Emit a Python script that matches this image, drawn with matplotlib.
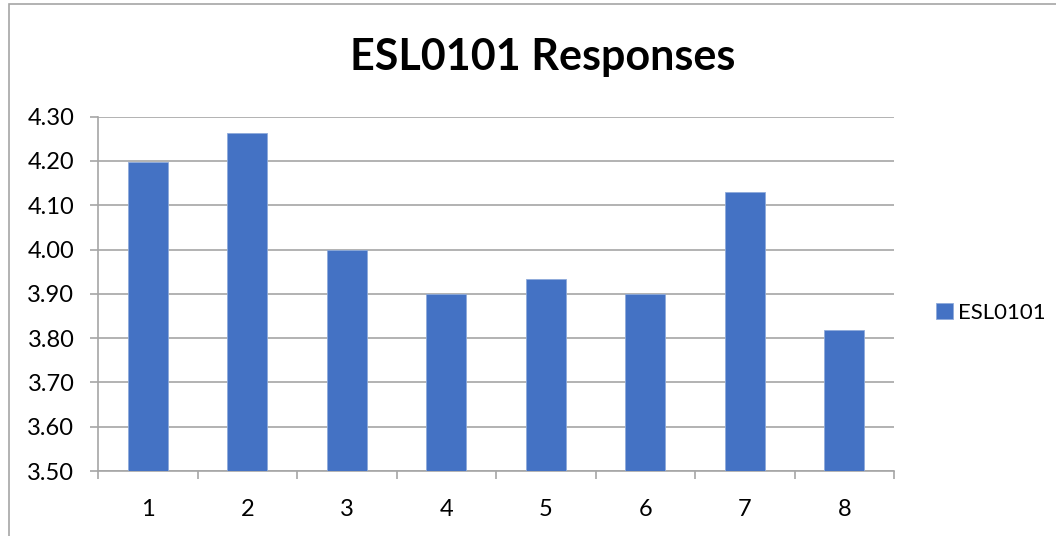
import matplotlib.pyplot as plt
import matplotlib.patches as mpatches

categories = ['1', '2', '3', '4', '5', '6', '7', '8']
esl0101 = [4.197, 4.263, 4.00, 3.90, 3.934, 3.90, 4.131, 3.819]
yticks = [3.50, 3.60, 3.70, 3.80, 3.90, 4.00, 4.10, 4.20, 4.30]

plt.rcParams['font.family'] = ['Lato', 'DejaVu Sans']

fig = plt.figure(figsize=(10.56, 5.36), dpi=100)
ax = fig.add_axes([98 / 1056, 65 / 536, 796 / 1056, 354.3 / 536])

# outer chart border
fig.patches.append(mpatches.Rectangle((9 / 1056, -0.1), 1.2, 1 - 4 / 536 + 0.1,
                                      transform=fig.transFigure, fill=False,
                                      edgecolor='#a6a6a6', lw=1.2))

x = range(len(categories))
ax.bar(x, esl0101, width=0.4, color='#4472C4', edgecolor='#8eaadb', lw=0.6,
       label='ESL0101', zorder=3)
ax.set_ylim(3.50, 4.30)
ax.set_xlim(-0.5, len(categories) - 0.5)
ax.set_yticks(yticks)
ax.set_yticklabels(['%.2f' % v for v in yticks], fontsize=17)
ax.set_xticks(list(x))
ax.set_xticklabels(categories, fontsize=17)
ax.set_xticks([i - 0.5 for i in range(len(categories) + 1)], minor=True)
ax.tick_params(axis='x', which='major', length=0, pad=20)
ax.tick_params(axis='x', which='minor', length=6, color='#a6a6a6', width=1.2)
ax.tick_params(axis='y', length=6, color='#a6a6a6', width=1.2, pad=11)

ax.grid(axis='y', color='#a6a6a6', lw=1.2, zorder=0)
for s in ['top', 'right']:
    ax.spines[s].set_visible(False)
ax.spines['left'].set_color('#a6a6a6')
ax.spines['bottom'].set_color('#a6a6a6')
ax.spines['left'].set_linewidth(1.2)
ax.spines['bottom'].set_linewidth(1.2)

fig.text(543 / 1056, 1 - 57 / 536, 'ESL0101 Responses', ha='center', va='center',
         fontsize=31, fontweight='bold')

ax.legend(loc='center left', bbox_to_anchor=(936 / 1056, 1 - 313 / 536),
          bbox_transform=fig.transFigure, frameon=False, fontsize=16,
          borderpad=0, borderaxespad=0,
          handlelength=0.75, handleheight=0.75, handletextpad=0.25)

plt.savefig('out.png', dpi=100)
